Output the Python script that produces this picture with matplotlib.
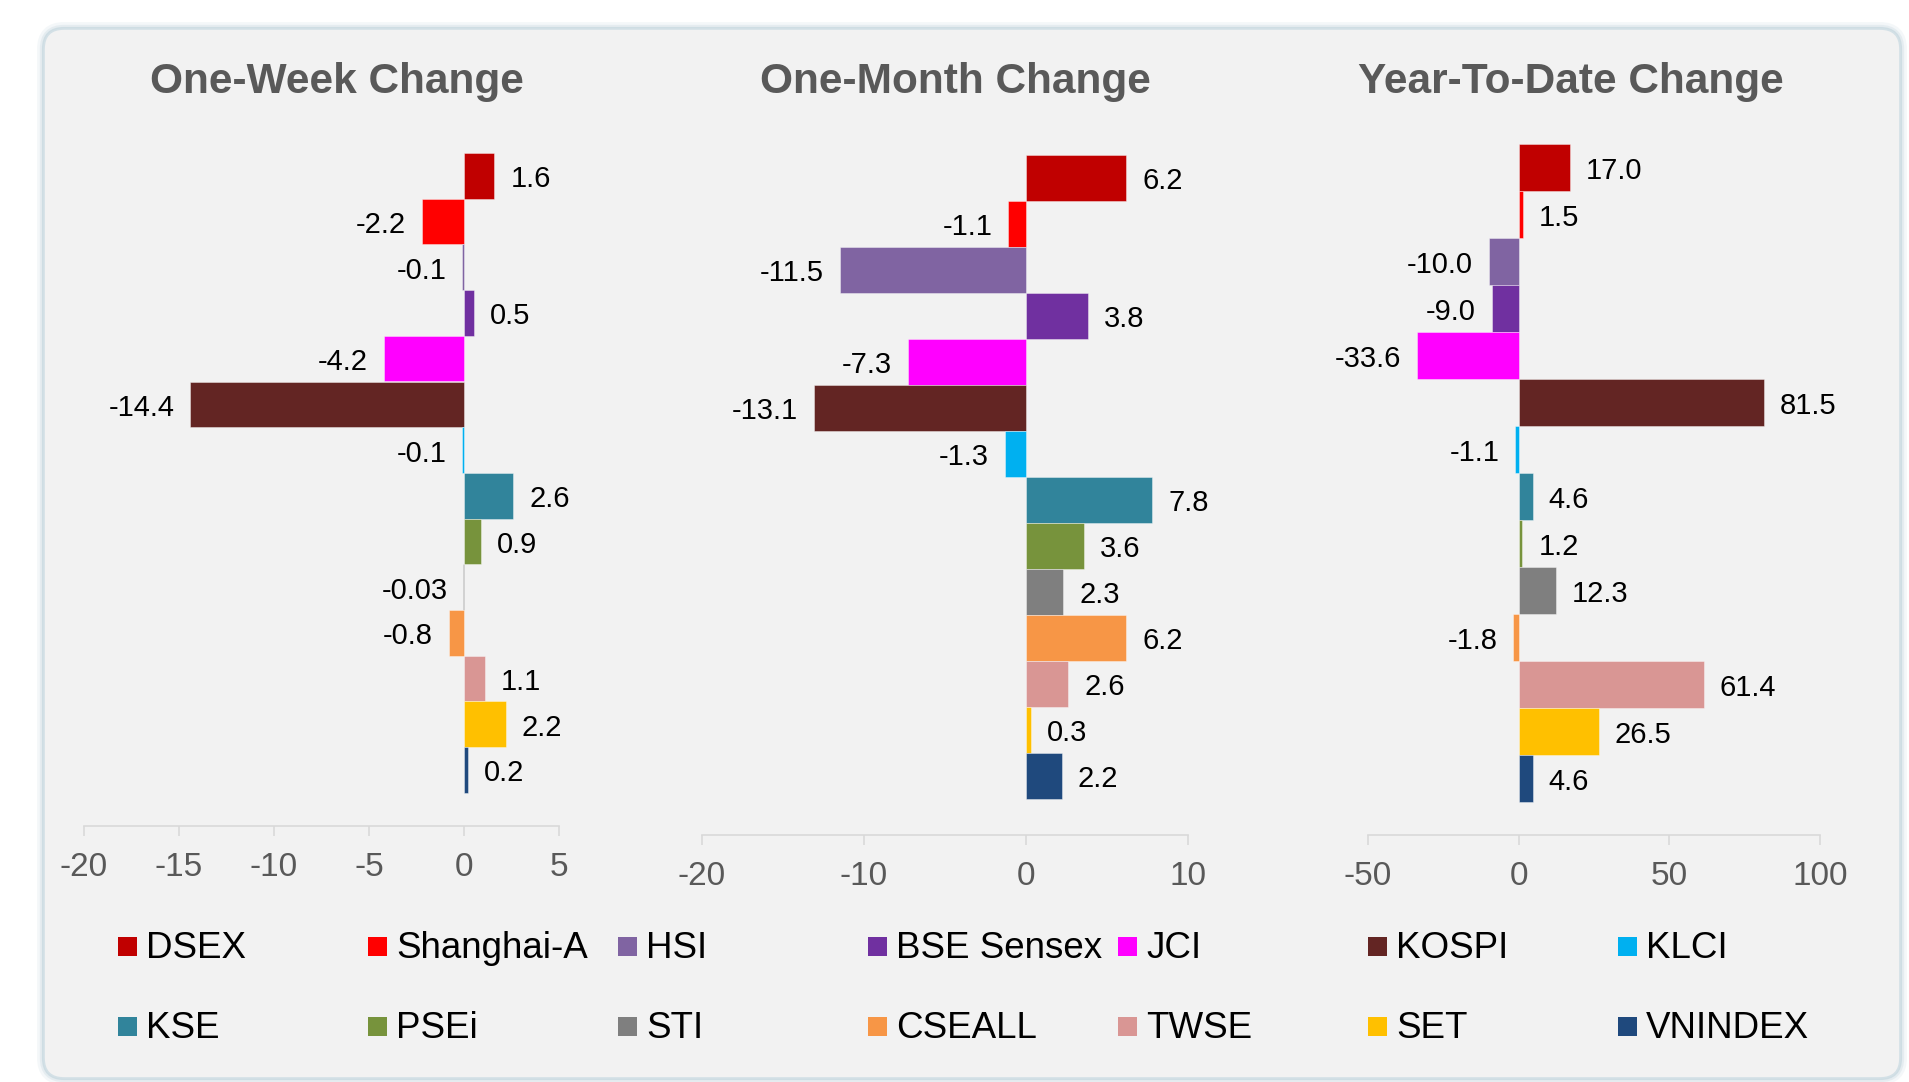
import matplotlib
matplotlib.use("Agg")
import matplotlib.pyplot as plt
from matplotlib.patches import FancyBboxPatch, Rectangle

plt.rcParams["font.family"] = ["Liberation Sans", "DejaVu Sans"]
plt.rcParams["axes.unicode_minus"] = False

# data
indices = ["DSEX", "Shanghai-A", "HSI", "BSE Sensex", "JCI", "KOSPI", "KLCI",
           "KSE", "PSEi", "STI", "CSEALL", "TWSE", "SET", "VNINDEX"]
colors = ["#C00000", "#FF0000", "#8064A2", "#7030A0", "#FF00FF", "#632523", "#00B0F0",
          "#31849B", "#77933C", "#7F7F7F", "#F79646", "#D99694", "#FFC000", "#1F497D"]
week = [1.6, -2.2, -0.1, 0.5, -4.2, -14.4, -0.1, 2.6, 0.9, -0.03, -0.8, 1.1, 2.2, 0.2]
month = [6.2, -1.1, -11.5, 3.8, -7.3, -13.1, -1.3, 7.8, 3.6, 2.3, 6.2, 2.6, 0.3, 2.2]
ytd = [17.0, 1.5, -10.0, -9.0, -33.6, 81.5, -1.1, 4.6, 1.2, 12.3, -1.8, 61.4, 26.5, 4.6]
titles = ["One-Week Change", "One-Month Change", "Year-To-Date Change"]
week_ticks = [-20, -15, -10, -5, 0, 5]
month_ticks = [-20, -10, 0, 10]
ytd_ticks = [-50, 0, 50, 100]

W, H = 1909, 1082
fig = plt.figure(figsize=(W / 100, H / 100), dpi=100)

# background panel (pixel coordinates)
bg = fig.add_axes([0, 0, 1, 1])
bg.set_xlim(0, W)
bg.set_ylim(H, 0)
bg.axis("off")
for lw, a in [(10, 0.15), (6, 0.25), (3, 0.5)]:
    bg.add_patch(FancyBboxPatch((44, 29), 1900 - 44, 1078 - 29,
                                boxstyle="round,pad=0,rounding_size=20",
                                facecolor="none", edgecolor="#b9cfd8", lw=lw, alpha=a))
bg.add_patch(FancyBboxPatch((44, 29), 1900 - 44, 1078 - 29,
                            boxstyle="round,pad=0,rounding_size=20",
                            facecolor="#F2F2F2", edgecolor="#d3e0e6", lw=1.2))


def fmt(v):
    if abs(v * 10 - round(v * 10)) < 1e-9:
        return f"{v:.1f}"
    return f"{v:.2f}"


# layout in pixels: left, right, top of first bar, bar height, axis line y, title x
layout = [
    (84, 559, 153, 45.7, 826, 337),
    (702, 1188, 155, 46.0, 835, 955),
    (1368, 1820, 144, 47.0, 835, 1571),
]
series = [week, month, ytd]
ticks = [week_ticks, month_ticks, ytd_ticks]

n = len(indices)
for vals, tk, title, (l, r, top, h, axis_y, tx) in zip(series, ticks, titles, layout):
    g = (axis_y - (top + n * h)) / h
    ax_top = top - g * h
    ax = fig.add_axes([l / W, 1 - axis_y / H, (r - l) / W, (axis_y - ax_top) / H])
    ax.patch.set_visible(False)
    ypos = list(range(n))
    ax.barh(ypos, vals, height=1.0, color=colors, edgecolor=(1, 1, 1, 0.45), linewidth=0.6)
    ax.set_ylim(n - 0.5 + g, -0.5 - g)
    ax.set_xlim(tk[0], tk[-1])
    ax.set_xticks(tk)
    ax.set_xticklabels([str(t) for t in tk])
    ax.set_yticks([])
    for s in ["top", "left", "right"]:
        ax.spines[s].set_visible(False)
    ax.spines["bottom"].set_color("#D9D9D9")
    ax.spines["bottom"].set_linewidth(1.2)
    ax.tick_params(axis="x", colors="#D9D9D9", length=7.5, width=1.2, pad=11,
                   labelsize=24, labelcolor="#595959")
    for y, v in zip(ypos, vals):
        off = 11.5 if v >= 0 else -11.5
        ax.annotate(fmt(v), (v, y), xytext=(off, -2.5), textcoords="offset points",
                    ha="left" if v >= 0 else "right", va="center",
                    fontsize=21, color="black")
    bg.text(tx, 93, title, ha="center", va="baseline", fontsize=30.5,
            fontweight="bold", color="#595959")

# legend, two rows of seven
for i, (name, c) in enumerate(zip(indices, colors)):
    row, col = divmod(i, 7)
    x = 118 + 250 * col
    y = 946 + 80 * row
    bg.add_patch(Rectangle((x, y - 9.5), 19, 19, facecolor=c, edgecolor="none"))
    bg.text(x + 28, y + 2, name, ha="left", va="center", fontsize=26.5, color="black")

fig.savefig("out.png", dpi=100)
